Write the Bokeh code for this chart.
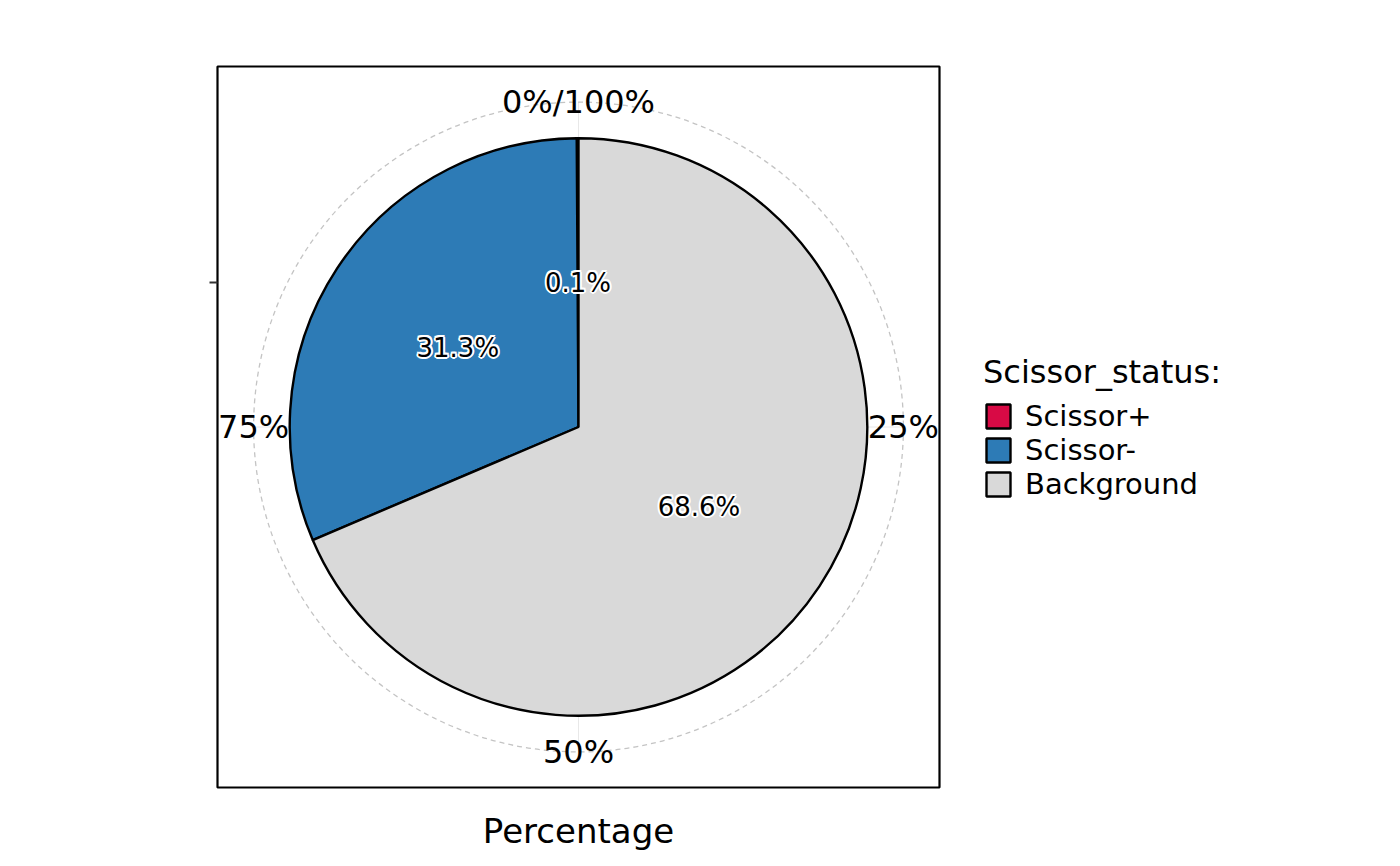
import numpy as np
from bokeh.plotting import figure
from bokeh.models import (Range1d, FixedTicker, Legend, LegendItem, ColumnDataSource,
                          LinearAxis)
from bokeh.core.properties import value
from bokeh.embed import file_html
from bokeh.resources import INLINE

# ---- data ----
categories = ["Scissor+", "Scissor-", "Background"]
percentages = [0.1, 31.3, 68.6]
colors = ["#D80A45", "#2D7BB6", "#D9D9D9"]
pct_labels = ["0.1%", "31.3%", "68.6%"]
theta_breaks = [0, 25, 50, 75]
theta_labels = ["0%/100%", "25%", "50%", "75%"]
legend_title = "Scissor_status:"
axis_title = "Percentage"

FONT = "DejaVu Sans"
FL, FT, FW, FH = 217, 66, 722, 721

PIE_R = 0.4
LABEL_R = 0.2
OUTER_R = 0.45

# stacking as in ggplot: first level on top of the stack
pv = np.array(percentages, dtype=float)
total = pv.sum()
ends = np.cumsum(pv[::-1])[::-1] / total
starts = ends - pv / total
mids = (starts + ends) / 2


def ang(frac):
    return np.pi / 2 - 2 * np.pi * np.asarray(frac)


src = ColumnDataSource(dict(
    cat=categories, color=colors,
    start=ang(starts), end=ang(ends),
    lx=LABEL_R * np.cos(ang(mids)), ly=LABEL_R * np.sin(ang(mids)),
    lab=pct_labels,
))

hy = FH / FW / 2
p = figure(frame_width=FW, frame_height=FH, x_range=Range1d(-0.5, 0.5), y_range=Range1d(-hy, hy),
           output_backend="svg", toolbar_location=None,
           x_axis_location=None, y_axis_location=None,
           min_border_left=FL, min_border_right=10,
           min_border_top=FT, min_border_bottom=60)
p.grid.visible = False
p.outline_line_color = "black"
p.outline_line_width = 2.2
p.background_fill_color = "white"
p.border_fill_color = "white"

# left axis (single tick, no label)
yax = LinearAxis(ticker=FixedTicker(ticks=[LABEL_R]), axis_line_color=None,
                 major_tick_out=8, major_tick_in=0, major_tick_line_color="#333333",
                 major_tick_line_width=2, minor_tick_line_color=None,
                 major_label_overrides={LABEL_R: ""}, major_label_text_font_size="1px")
p.add_layout(yax, "left")

# bottom axis title
xax = LinearAxis(ticker=FixedTicker(ticks=[]), axis_line_color=None,
                 major_tick_line_color=None, minor_tick_line_color=None,
                 major_tick_out=0, major_tick_in=0,
                 axis_label=axis_title, axis_label_text_font=FONT,
                 axis_label_text_font_size="34px", axis_label_text_font_style="normal",
                 axis_label_text_color="black", axis_label_standoff=23)
p.add_layout(xax, "below")

# theta grid lines (faint)
tb = np.array(theta_breaks) / 100.0
ta = ang(tb)
p.segment(x0=0, y0=0, x1=OUTER_R * np.cos(ta), y1=OUTER_R * np.sin(ta),
          line_color="#E8E8E8", line_width=1)
# dashed outer circle
p.circle(x=[0], y=[0], radius=OUTER_R, fill_color=None, line_color="#C4C4C4",
         line_dash="5 4", line_width=1.3)

# pie
wr = p.wedge(x=0, y=0, radius=PIE_R, start_angle="start", end_angle="end",
             direction="clock", fill_color="color", line_color="black",
             line_width=2.4, source=src)

# theta labels
p.text(x=OUTER_R * np.cos(ta), y=OUTER_R * np.sin(ta), text=theta_labels,
       text_font=value(FONT), text_font_size="32px", text_color="black",
       text_align="center", text_baseline="middle")

# percentage labels with white halo
for dx, dy in [(-2, 0), (2, 0), (0, -2), (0, 2), (-1.5, -1.5), (1.5, 1.5), (-1.5, 1.5), (1.5, -1.5)]:
    p.text(x="lx", y="ly", text="lab", source=src, x_offset=dx, y_offset=dy,
           text_font=value(FONT), text_font_size="26px", text_color="white",
           text_align="center", text_baseline="middle")
p.text(x="lx", y="ly", text="lab", source=src,
       text_font=value(FONT), text_font_size="26px", text_color="black",
       text_align="center", text_baseline="middle")

legend = Legend(items=[LegendItem(label=c, renderers=[wr], index=i) for i, c in enumerate(categories)],
                title=legend_title, title_text_font=FONT, title_text_font_size="32px",
                title_text_font_style="normal", title_text_color="black", title_standoff=8,
                label_text_font=FONT, label_text_font_size="29px", label_text_color="black",
                glyph_width=30, glyph_height=30, label_height=26, spacing=0,
                label_standoff=12, padding=4, margin=44,
                border_line_color=None, background_fill_alpha=0,
                location="center_left")
p.add_layout(legend, "right")

open("out.html", "w").write(file_html(p, INLINE))
